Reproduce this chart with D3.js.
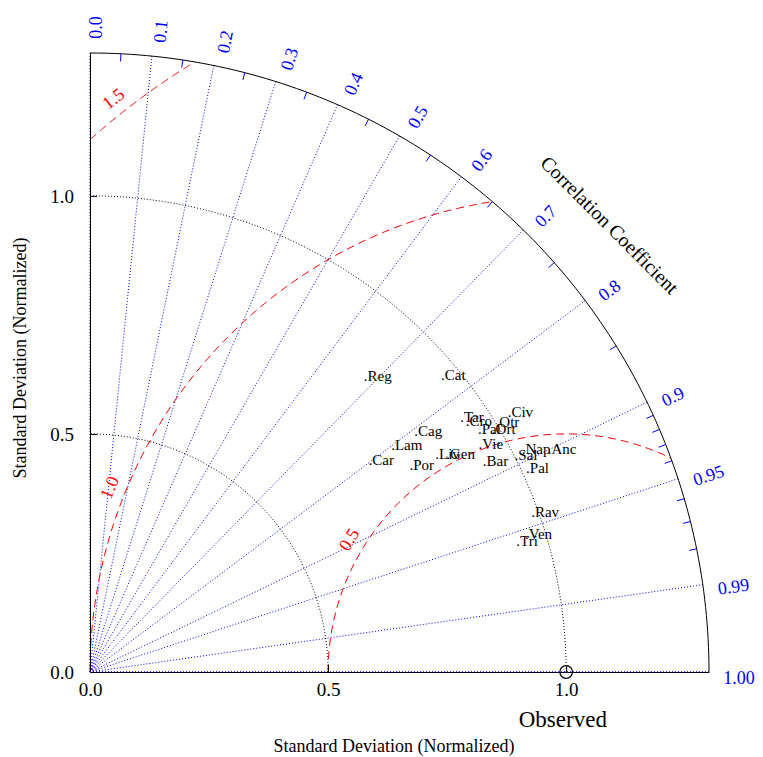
<!DOCTYPE html>
<html>
<head>
<meta charset="utf-8">
<script src="https://cdn.jsdelivr.net/npm/d3@7"></script>
<style>
  body { margin: 0; background: #fff; }
  text { font-family: "Liberation Serif", "Times New Roman", serif; }
</style>
</head>
<body>
<div id="chart"></div>
<script>
// ========= Data ========= //
const stations = ['Reg', 'Cat', 'Tar', 'Cro', 'Civ', 'Otr', 'Ort', 'Pal', 'Vie', 'Cag', 'Lam', 'Car',
  'Por', 'Liv', 'Gen', 'Bar', 'Sal', 'Nap', 'Anc', 'Pal', 'Rav', 'Ven', 'Tri'];
const stdDev = [0.843, 0.963, 0.943, 0.948, 1.032, 1.000, 0.985, 0.960, 0.946, 0.847, 0.790, 0.733,
  0.798, 0.857, 0.877, 0.936, 1.001, 1.020, 1.069, 1.011, 0.987, 0.960, 0.938];
const correlation = [0.687, 0.770, 0.829, 0.837, 0.854, 0.856, 0.861, 0.853, 0.867, 0.809, 0.806, 0.804,
  0.846, 0.851, 0.858, 0.886, 0.895, 0.893, 0.903, 0.910, 0.943, 0.956, 0.959];

const corrLines = [0.0, 0.1, 0.2, 0.3, 0.4, 0.5, 0.6, 0.7, 0.8, 0.9, 0.95, 0.99, 1.0];
const corrLabels = ['0.0', '0.1', '0.2', '0.3', '0.4', '0.5', '0.6', '0.7', '0.8', '0.9', '0.95', '0.99', '1.00'];
const corrMinorTicks = [0.05, 0.15, 0.25, 0.35, 0.45, 0.55, 0.65, 0.75, 0.85,
  0.91, 0.92, 0.93, 0.94, 0.96, 0.97, 0.98];
const sdArcs = [0.5, 1.0];
const rmsArcs = [0.5, 1.0, 1.5];
const rmsLabels = ['0.5', '1.0', '1.5'];
const sdTicks = [0.0, 0.5, 1.0];
const maxSd = 1.3;
const obsSd = 1.0;

// ========= Setup ========= //
const width = 763, height = 757;
const x = d3.scaleLinear().domain([0, maxSd]).range([90, 709]);
const y = d3.scaleLinear().domain([0, maxSd]).range([672, 53]);
const blue = '#0000ff', red = '#ff0000';

const svg = d3.select('#chart').append('svg')
  .attr('width', width)
  .attr('height', height);

const line = d3.line().x((d) => x(d[0])).y((d) => y(d[1]));

// arc points around a centre, angles in radians (math convention)
function arcPoints(cx, r, a0, a1) {
  const n = 120;
  return d3.range(n + 1).map((i) => {
    const a = a0 + (a1 - a0) * i / n;
    return [cx + r * Math.cos(a), r * Math.sin(a)];
  });
}

// ========= Correlation rays ========= //
svg.append('g')
  .selectAll('line')
  .data(corrLines)
  .join('line')
  .attr('x1', x(0)).attr('y1', y(0))
  .attr('x2', (d) => x(maxSd * d))
  .attr('y2', (d) => y(maxSd * Math.sin(Math.acos(d))))
  .attr('stroke', blue)
  .attr('stroke-width', 1)
  .attr('stroke-dasharray', '1,2');

// ========= Std dev arcs ========= //
svg.append('g')
  .selectAll('path')
  .data(sdArcs)
  .join('path')
  .attr('d', (d) => line(arcPoints(0, d, 0, Math.PI / 2)))
  .attr('fill', 'none')
  .attr('stroke', '#000')
  .attr('stroke-dasharray', '1,2');

// ========= RMS difference arcs ========= //
function rmsArc(r) {
  const ix = (maxSd * maxSd - r * r + obsSd * obsSd) / (2 * obsSd);
  const aEnd = Math.atan2(Math.sqrt(maxSd * maxSd - ix * ix), ix - obsSd);
  const aStart = r <= obsSd ? Math.PI : Math.atan2(Math.sqrt(r * r - obsSd * obsSd), -obsSd);
  return arcPoints(obsSd, r, aStart, aEnd);
}

svg.append('g')
  .selectAll('path')
  .data(rmsArcs)
  .join('path')
  .attr('d', (d) => line(rmsArc(d)))
  .attr('fill', 'none')
  .attr('stroke', red)
  .attr('stroke-dasharray', '8,5');

// label angles along each rms arc (degrees)
const rmsLabelAngle = [148.6, 158, 128.3];
svg.append('g')
  .selectAll('text')
  .data(rmsArcs)
  .join('text')
  .attr('transform', (d, i) => {
    const a = rmsLabelAngle[i] * Math.PI / 180;
    const rr = d + 0.035;
    const px = x(obsSd + rr * Math.cos(a));
    const py = y(rr * Math.sin(a));
    return `translate(${px},${py}) rotate(${90 - rmsLabelAngle[i]})`;
  })
  .attr('text-anchor', 'middle')
  .attr('dy', '0.35em')
  .attr('fill', red)
  .attr('font-size', 18)
  .text((d, i) => rmsLabels[i]);

// ========= Outer arc ========= //
svg.append('path')
  .attr('d', line(arcPoints(0, maxSd, 0, Math.PI / 2)))
  .attr('fill', 'none')
  .attr('stroke', '#000')
  .attr('stroke-width', 1);

svg.append('g')
  .selectAll('line')
  .data(corrMinorTicks)
  .join('line')
  .attr('x1', (d) => x(maxSd * d))
  .attr('y1', (d) => y(maxSd * Math.sin(Math.acos(d))))
  .attr('x2', (d) => x((maxSd - 0.016) * d))
  .attr('y2', (d) => y((maxSd - 0.016) * Math.sin(Math.acos(d))))
  .attr('stroke', blue)
  .attr('stroke-width', 1);

// correlation labels
svg.append('g')
  .selectAll('text')
  .data(corrLines)
  .join('text')
  .attr('transform', (d) => {
    const a = Math.acos(d);
    const rr = maxSd * 1.023;
    return `translate(${x(rr * d)},${y(rr * Math.sin(a))}) rotate(${-a * 180 / Math.PI})`;
  })
  .attr('dy', '0.68em')
  .attr('fill', blue)
  .attr('font-size', 18)
  .text((d, i) => corrLabels[i]);

{
  const a = 40.7 * Math.PI / 180;
  svg.append('text')
    .attr('transform', `translate(${x(1.44 * Math.cos(a))},${y(1.44 * Math.sin(a))}) rotate(45)`)
    .attr('text-anchor', 'middle')
    .attr('dy', '0.35em')
    .attr('font-size', 20)
    .text('Correlation Coefficient');
}

// ========= Axes ========= //
const xAxis = svg.append('g')
  .attr('transform', `translate(0,${y(0)})`)
  .call(d3.axisBottom(x).tickValues(sdTicks).tickFormat(d3.format('.1f'))
    .tickSize(-7).tickSizeOuter(0).tickPadding(11));

const yAxis = svg.append('g')
  .attr('transform', `translate(${x(0)},0)`)
  .call(d3.axisLeft(y).tickValues(sdTicks).tickFormat(d3.format('.1f'))
    .tickSize(-7).tickSizeOuter(0).tickPadding(16));

[xAxis, yAxis].forEach((g) => {
  g.attr('font-family', null).attr('font-size', null);
  g.selectAll('text').attr('font-size', 19).attr('fill', '#000');
  g.selectAll('.domain, line').attr('stroke', '#000');
});
yAxis.selectAll('text').attr('dy', '0.35em');

// bottom blue dotted ray on top of the axis
svg.append('line')
  .attr('x1', x(0)).attr('y1', y(0))
  .attr('x2', x(maxSd)).attr('y2', y(0))
  .attr('stroke', blue)
  .attr('stroke-dasharray', '1,2');

svg.append('text')
  .attr('x', 394).attr('y', 752)
  .attr('text-anchor', 'middle')
  .attr('font-size', 18)
  .text('Standard Deviation (Normalized)');

svg.append('text')
  .attr('transform', 'translate(26,358) rotate(-90)')
  .attr('text-anchor', 'middle')
  .attr('font-size', 18)
  .text('Standard Deviation (Normalized)');

svg.append('text')
  .attr('x', x(0.993)).attr('y', 727)
  .attr('text-anchor', 'middle')
  .attr('font-size', 23)
  .text('Observed');

// observed point
svg.append('circle')
  .attr('cx', x(obsSd)).attr('cy', y(0))
  .attr('r', 6.3)
  .attr('fill', 'none')
  .attr('stroke', '#000')
  .attr('stroke-width', 1.2);

// ========= Stations ========= //
svg.append('g')
  .selectAll('text')
  .data(stations)
  .join('text')
  .attr('x', (d, i) => x(stdDev[i] * correlation[i]) - 2)
  .attr('y', (d, i) => y(stdDev[i] * Math.sin(Math.acos(correlation[i]))) + 1)
  .attr('font-size', 15)
  .attr('fill', '#000')
  .text((d) => '.' + d);
</script>
</body>
</html>
